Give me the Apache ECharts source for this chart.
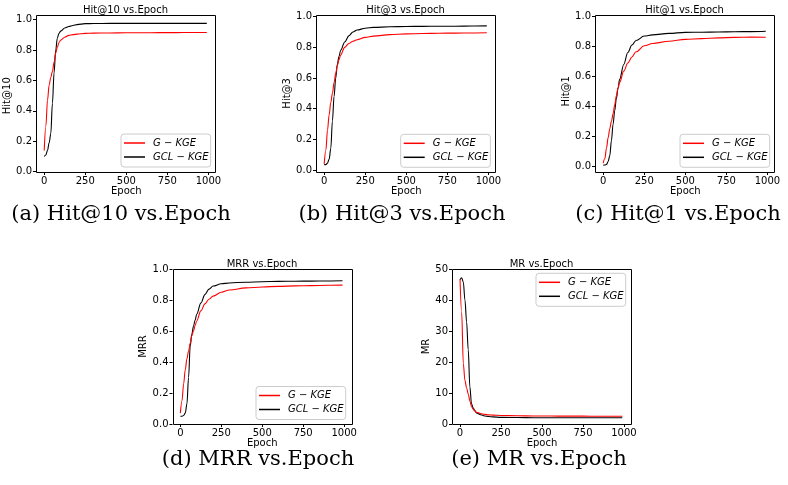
<!DOCTYPE html>
<html>
<head>
<meta charset="utf-8">
<script src="https://cdn.jsdelivr.net/npm/echarts@6/dist/echarts.min.js"></script>
<style>html,body{margin:0;padding:0;background:#fff;}#c{width:788px;height:485px;}</style>
</head>
<body>
<div id="c"></div>
<script>
const epochs = [0,10,20,30,40,50,60,70,80,90,100,125,150,175,200,250,300,400,500,600,700,800,900,990];

const hit10_G   = [0.14,0.30,0.47,0.57,0.62,0.66,0.72,0.78,0.82,0.85,0.865,0.885,0.897,0.902,0.905,0.910,0.912,0.913,0.914,0.914,0.915,0.915,0.916,0.916];
const hit10_GCL = [0.10,0.11,0.14,0.19,0.25,0.45,0.65,0.80,0.88,0.91,0.925,0.945,0.955,0.962,0.968,0.974,0.975,0.976,0.976,0.976,0.976,0.976,0.976,0.976];

const hit3_G    = [0.04,0.13,0.26,0.36,0.44,0.50,0.57,0.63,0.68,0.72,0.75,0.80,0.825,0.84,0.85,0.865,0.873,0.883,0.888,0.890,0.892,0.893,0.894,0.895];
const hit3_GCL  = [0.035,0.035,0.045,0.07,0.14,0.32,0.48,0.60,0.69,0.74,0.78,0.835,0.875,0.90,0.913,0.925,0.930,0.934,0.936,0.937,0.938,0.938,0.939,0.940];

const hit1_G    = [0.02,0.05,0.12,0.19,0.25,0.30,0.35,0.41,0.47,0.52,0.56,0.635,0.69,0.73,0.765,0.805,0.82,0.835,0.848,0.853,0.858,0.861,0.863,0.862];
const hit1_GCL  = [0.005,0.007,0.01,0.03,0.07,0.17,0.28,0.37,0.45,0.52,0.58,0.68,0.76,0.81,0.84,0.87,0.878,0.888,0.895,0.896,0.897,0.899,0.900,0.902];

const mrr_G     = [0.07,0.15,0.26,0.35,0.42,0.47,0.52,0.57,0.60,0.635,0.665,0.73,0.775,0.805,0.825,0.85,0.865,0.878,0.884,0.888,0.891,0.893,0.895,0.896];
const mrr_GCL   = [0.05,0.05,0.055,0.07,0.13,0.30,0.50,0.58,0.63,0.67,0.71,0.78,0.835,0.87,0.89,0.905,0.91,0.915,0.918,0.92,0.921,0.922,0.923,0.924];

const mr_G      = [46.7,36,19.5,14,11.7,9.7,7.5,5.6,4.8,4.2,3.8,3.4,3.1,2.95,2.85,2.75,2.7,2.62,2.58,2.55,2.53,2.52,2.5,2.5];
const mr_GCL    = [46.5,47.2,45.8,40,33,24,12,6.5,5.2,4.3,3.6,3.0,2.6,2.4,2.3,2.15,2.1,2.05,2.0,2.0,2.0,2.0,2.0,2.0];

const seriesNames = ['G \u2212 KGE', 'GCL \u2212 KGE'];

const panels = [
  {title:'Hit@10 vs.Epoch', ylabel:'Hit@10', caption:'(a) Hit@10 vs.Epoch', g:hit10_G, gcl:hit10_GCL, yMax:1,  yStep:0.2},
  {title:'Hit@3 vs.Epoch',  ylabel:'Hit@3',  caption:'(b) Hit@3 vs.Epoch',  g:hit3_G,  gcl:hit3_GCL,  yMax:1,  yStep:0.2},
  {title:'Hit@1 vs.Epoch',  ylabel:'Hit@1',  caption:'(c) Hit@1 vs.Epoch',  g:hit1_G,  gcl:hit1_GCL,  yMax:1,  yStep:0.2},
  {title:'MRR vs.Epoch',    ylabel:'MRR',    caption:'(d) MRR vs.Epoch',    g:mrr_G,   gcl:mrr_GCL,   yMax:1,  yStep:0.2},
  {title:'MR vs.Epoch',     ylabel:'MR',     caption:'(e) MR vs.Epoch',     g:mr_G,    gcl:mr_GCL,    yMax:50, yStep:10}
];
const xMax = 1000, xStep = 250;

// frame layout in pixels and the visible data window of each frame
const layout = [
  {left:36,    top:15,  width:179, height:157, xlo:-50, xhi:1040, ylo:-0.002, yhi:1.031, nameGap:20,   legend:[121,134],     capX:121, capY:215, dec:1},
  {left:316,   top:15,  width:179, height:157, xlo:-50, xhi:1040, ylo:-0.013, yhi:1.011, nameGap:20,   legend:[400.7,134.3], capX:402, capY:215, dec:1},
  {left:595,   top:15,  width:179, height:157, xlo:-50, xhi:1040, ylo:-0.040, yhi:1.011, nameGap:18,   legend:[680,134.3],   capX:678, capY:215, dec:1},
  {left:172.5, top:269, width:179, height:155, xlo:-48, xhi:1045, ylo:0,      yhi:1,     nameGap:20.5, legend:[256,386.5],   capX:258, capY:460, dec:1},
  {left:452,   top:269, width:179, height:155, xlo:-49, xhi:1043, ylo:0,      yhi:50,    nameGap:17,   legend:[536,273.3],   capX:539, capY:460, dec:0}
];

const FONT = 'DejaVu Sans';
const RED = '#ff0000';
const BLACK = '#000000';

const option = {
  animation:false,
  backgroundColor:'#ffffff',
  grid:[], xAxis:[], yAxis:[], series:[], legend:[], graphic:[]
};

panels.forEach((p,i)=>{
  const L = layout[i];
  // inner grid where data window is [0,xMax] x [0,yMax]
  const px = L.width / (L.xhi - L.xlo);
  const py = L.height / (L.yhi - L.ylo);
  const gLeft = L.left + (0 - L.xlo) * px;
  const gWidth = (xMax - 0) * px;
  const gBottom = L.top + L.height - (0 - L.ylo) * py;
  const gTop = L.top + (L.yhi - p.yMax) * py;
  const xOff = (L.top + L.height) - gBottom;
  const yOff = gLeft - L.left;

  option.grid.push({left:gLeft, top:gTop, width:gWidth, height:gBottom - gTop, show:false, containLabel:false});
  option.xAxis.push({
    type:'value', gridIndex:i, min:0, max:xMax, interval:xStep, offset:xOff,
    name:'Epoch', nameLocation:'middle', nameGap:11,
    nameTextStyle:{fontFamily:FONT, fontSize:10, color:'#000'},
    axisLine:{show:false, onZero:false}, splitLine:{show:false},
    axisTick:{show:true, inside:false, length:3, lineStyle:{color:'#000'}},
    axisLabel:{fontFamily:FONT, fontSize:10, color:'#000', margin:4, showMinLabel:true, showMaxLabel:true,
               formatter:v=>String(Math.round(v))}
  });
  option.yAxis.push({
    type:'value', gridIndex:i, min:0, max:p.yMax, interval:p.yStep, offset:yOff,
    name:p.ylabel, nameLocation:'middle', nameGap:L.nameGap,
    nameTextStyle:{fontFamily:FONT, fontSize:10, color:'#000'},
    axisLine:{show:false, onZero:false}, splitLine:{show:false},
    axisTick:{show:true, inside:false, length:3, lineStyle:{color:'#000'}},
    axisLabel:{fontFamily:FONT, fontSize:10, color:'#000', margin:4, showMinLabel:true, showMaxLabel:true,
               formatter:v=>Number(v).toFixed(L.dec)}
  });
  option.series.push({
    type:'line', name:seriesNames[0], xAxisIndex:i, yAxisIndex:i,
    data:epochs.map((e,k)=>[e,p.g[k]]), showSymbol:false, symbol:'none', clip:false,
    smooth:0.35, smoothMonotone:'x', lineStyle:{color:RED, width:1.1}, itemStyle:{color:RED}, z:3
  });
  option.series.push({
    type:'line', name:seriesNames[1], xAxisIndex:i, yAxisIndex:i,
    data:epochs.map((e,k)=>[e,p.gcl[k]]), showSymbol:false, symbol:'none', clip:false,
    smooth:0.35, smoothMonotone:'x', lineStyle:{color:BLACK, width:1.1}, itemStyle:{color:BLACK}, z:2
  });
  option.legend.push({
    data:seriesNames, left:L.legend[0], top:L.legend[1], orient:'vertical',
    icon:'rect', itemWidth:21, itemHeight:1.5, itemGap:2,
    padding:[3,2,4,3], borderColor:'#cccccc', borderWidth:1, borderRadius:3,
    backgroundColor:'rgba(255,255,255,0.8)', selectedMode:false, z:10,
    textStyle:{fontFamily:FONT, fontStyle:'italic', fontSize:10, lineHeight:12, color:'#000', padding:[0,0,0,3]}
  });
  // plot frame
  option.graphic.push({
    type:'rect', z:5, silent:true,
    shape:{x:Math.round(L.left)+0.5, y:Math.round(L.top)+0.5, width:Math.round(L.width), height:Math.round(L.height)},
    style:{fill:null, stroke:'#000', lineWidth:1}
  });
  option.graphic.push({
    type:'text', x:L.left + L.width/2, y:L.top - 5,
    style:{text:p.title, fontFamily:FONT, fontSize:10, fill:'#000', align:'center', verticalAlign:'middle'}
  });
  option.graphic.push({
    type:'text', x:L.capX, y:L.capY,
    style:{text:p.caption, fontFamily:'DejaVu Serif', fontSize:21, fill:'#000', align:'center', verticalAlign:'middle'}
  });
});

const chart = echarts.init(document.getElementById('c'), null, {renderer:'canvas'});
chart.setOption(option);
</script>
</body>
</html>
